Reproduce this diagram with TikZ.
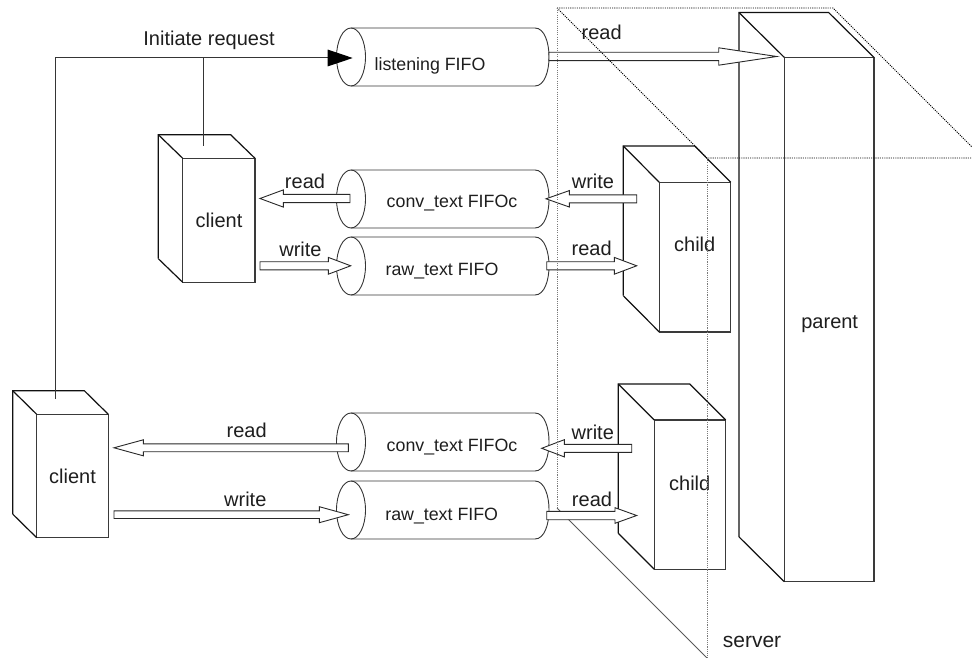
\documentclass[tikz,border=0pt]{standalone}
\usepackage{fontspec}
\setmainfont{Liberation Sans}
\usetikzlibrary{arrows.meta,calc}

\definecolor{ink}{HTML}{1E1E1E}
\definecolor{edge}{HTML}{111111}
\definecolor{faceedge}{HTML}{3A3A3A}
\definecolor{dotgray}{HTML}{7A7A7A}

% hidden-line style cuboid: back edges drawn from the front face node
\newcommand\backedges[3]{%
  \draw[boxedge] ([shift={(-#2,-#3)}]#1.south west) -- ([shift={(-#2,-#3)}]#1.north west)
     -- ([shift={(-#2,-#3)}]#1.north east) -- (#1.north east);
  \draw[boxedge] ([shift={(-#2,-#3)}]#1.north west) -- (#1.north west);
  \draw[boxedge] ([shift={(-#2,-#3)}]#1.south west) -- (#1.south west);}

% horizontal FIFO cylinder: name, left x, centre y, label position, label
\newcommand\fifo[5]{%
  \draw[cyl] ({#2},{#3-29}) -- ({#2+184},{#3-29})
     .. controls ({#2+202.7},{#3-29}) and ({#2+202.7},{#3+29}) .. ({#2+184},{#3+29})
     -- ({#2},{#3+29});
  \draw[cyl] (#2,#3) ellipse [x radius=14.5, y radius=29];
  \node[fifotext] (#1) at (#4) {#5};}

% hollow block arrow: tail, tip, shaft half width, head half width, head length
\newcommand\blockarrow[5]{%
  \draw[barrow] let \p1=(#1), \p2=(#2), \n1={sign(\x2-\x1)} in
    (\x1,{\y1+#3pt}) -- ({\x2-(\n1)*#5pt},{\y1+#3pt}) -- ({\x2-(\n1)*#5pt},{\y1+#4pt})
    -- (\x2,\y1) -- ({\x2-(\n1)*#5pt},{\y1-#4pt}) -- ({\x2-(\n1)*#5pt},{\y1-#3pt})
    -- (\x1,{\y1-#3pt}) -- cycle;}

\begin{document}
\begin{tikzpicture}[x=1pt,y=-1pt,
  lbl/.style={font=\fontsize{20}{24}\selectfont, text=ink, inner sep=0pt, anchor=base},
  fifotext/.style={font=\fontsize{17.8}{21}\selectfont, text=ink, inner sep=0pt, anchor=base},
  face/.style={draw=faceedge, line width=1.2pt, inner sep=0pt, outer sep=0pt},
  boxedge/.style={draw=edge, line width=1.2pt, line join=miter},
  cyl/.style={draw=edge!85, line width=0.9pt},
  barrow/.style={draw=edge!90, fill=white, line width=0.9pt, line join=miter},
  conn/.style={draw=edge!85, line width=1pt},
  dotk/.style={draw=black, line width=0.9pt, dash pattern=on 1.1pt off 1.1pt},
  dotg/.style={draw=dotgray, line width=0.9pt, dash pattern=on 1.1pt off 1.1pt},
  planeline/.style={draw=black!65, line width=0.8pt}]

\useasboundingbox (0,0) rectangle (972,658);

% ---------- cuboids ----------
\node[face, minimum width=72.3pt, minimum height=124pt] (c1) at (218.85,220.3) {};
\backedges{c1}{24.4}{23.6}
\node[face, minimum width=71.6pt, minimum height=123.4pt] (c2) at (72.5,476) {};
\backedges{c2}{24}{23.6}
\node[face, minimum width=71.4pt, minimum height=149.7pt] (k1) at (695,257.15) {};
\backedges{k1}{36}{36.3}
\node[face, minimum width=71.4pt, minimum height=149.3pt] (k2) at (690,494.65) {};
\backedges{k2}{36}{36}
\node[face, minimum width=89.7pt, minimum height=524.3pt] (par) at (829.15,319.55) {};
\backedges{par}{45.3}{44.8}

\node[lbl] (c1t) at (219,227) {client};
\node[lbl] (c2t) at (72.5,483.3) {client};
\node[lbl] (k1t) at (694.7,251.7) {child};
\node[lbl] (k2t) at (689.7,490) {child};
\node[lbl] (part) at (829.7,328) {parent};

% ---------- FIFOs ----------
\fifo{lf}{351}{57}{430,70.5}{listening FIFO}
\fifo{uc}{351}{199}{452,207.3}{conv\_text FIFOc}
\fifo{ur}{351}{266}{442,275}{raw\_text FIFO}
\fifo{lc}{351}{442}{452,451.7}{conv\_text FIFOc}
\fifo{lr}{351}{510}{441.7,520}{raw\_text FIFO}

% ---------- server plane (front face as node) ----------
\node[inner sep=0pt, outer sep=0pt, minimum width=276pt, minimum height=500pt] (srv) at (845,408) {};
\draw[planeline] ([shift={(-150,-150)}]srv.south west) -- (srv.south west);

% ---------- request connector ----------
\coordinate (c2top) at (55,399);
\coordinate (c1top) at (203,146);
\coordinate (lfin) at (352.7,58);
\coordinate (jn) at (c1top |- lfin);
\draw[conn, -{Triangle[length=25pt,width=16.6pt,fill=black,color=black]}] (c2top) |- (lfin);
\draw[conn] (jn) -- (c1top);
\node[lbl] (req) at (209,46) {Initiate request};

% ---------- data arrows ----------
\coordinate (lfR) at (549,56.5);    \coordinate (parIn) at (776.7,56.5);
\coordinate (ucIn) at (350,198.5);  \coordinate (c1R) at (260,198.5);
\coordinate (c1W) at (260,265.8);   \coordinate (urIn) at (350.7,265.8);
\coordinate (k1W) at (636.7,198.8); \coordinate (ucR) at (546,198.8);
\coordinate (urR) at (546.7,265.8); \coordinate (k1R) at (636.7,265.8);
\coordinate (lcIn) at (348.3,447.8);\coordinate (c2R) at (114,447.8);
\coordinate (c2W) at (114,514.7);   \coordinate (lrIn) at (348.3,514.7);
\coordinate (k2W) at (631.7,448.3); \coordinate (lcR) at (541.7,448.3);
\coordinate (lrR) at (546.7,515.5); \coordinate (k2R) at (636.7,515.5);

\blockarrow{lfR}{parIn}{4.2}{8.7}{58}
\blockarrow{ucIn}{c1R}{4.1}{8.6}{23.3}
\blockarrow{c1W}{urIn}{4.1}{8.4}{22.4}
\blockarrow{k1W}{ucR}{4.0}{8.2}{23.3}
\blockarrow{urR}{k1R}{4.1}{8.4}{22.4}
\blockarrow{lcIn}{c2R}{3.9}{8.0}{29.3}
\blockarrow{c2W}{lrIn}{3.8}{8.0}{29}
\blockarrow{k2W}{lcR}{4.0}{8.6}{22.6}
\blockarrow{lrR}{k2R}{4.2}{7.8}{21.7}

\node[lbl] (rd0) at (601.7,40) {read};
\node[lbl] (rd1) at (305,188.3) {read};
\node[lbl] (wr1) at (300.5,256) {write};
\node[lbl] (wr2) at (593,188.3) {write};
\node[lbl] (rd2) at (591.7,255) {read};
\node[lbl] (rd3) at (246.7,437.3) {read};
\node[lbl] (wr3) at (245.3,506) {write};
\node[lbl] (wr4) at (592.8,439.3) {write};
\node[lbl] (rd4) at (592,506) {read};

% dotted edges of the server plane, over everything else
\draw[dotk] ([shift={(-150,-150)}]srv.north west) -- ([shift={(-150,-150)}]srv.north east) -- (srv.north east);
\draw[dotk] ([shift={(-150,-150)}]srv.north west) -- (srv.north west) -- (srv.north east);
\draw[dotg] ([shift={(-150,-150)}]srv.north west) -- ([shift={(-150,-150)}]srv.south west);
\draw[dotg] (srv.north west) -- (srv.south west);
\node[lbl, font=\fontsize{21}{25}\selectfont] (srvt) at (752,647.7) {server};
\end{tikzpicture}
\end{document}
